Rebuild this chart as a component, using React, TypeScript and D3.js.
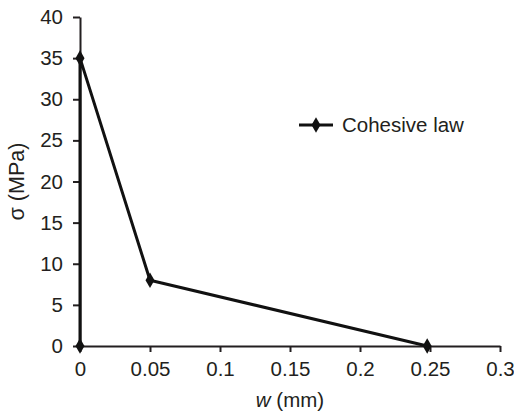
import React, { useRef, useEffect } from 'react';
import * as d3 from 'd3';

// crack opening w (mm) and cohesive stress sigma (MPa)
const openings = [0, 0, 0.05, 0.248];
const stresses = [0, 35, 8, 0];
const xTicks = [0, 0.05, 0.1, 0.15, 0.2, 0.25, 0.3];
const yTicks = [0, 5, 10, 15, 20, 25, 30, 35, 40];
const seriesName = 'Cohesive law';

const App = () => {
  const ref = useRef<SVGSVGElement>(null);

  useEffect(() => {
    const svg = d3.select(ref.current);
    svg.selectAll('*').remove();

    const width = 514;
    const height = 412;
    const margin = { top: 17, right: 14, bottom: 66, left: 80 };
    const ink = '#231f20';
    const font = 'Liberation Sans, Arial, sans-serif';

    svg.attr('width', width).attr('height', height);

    const x = d3.scaleLinear().domain([0, 0.3]).range([margin.left, width - margin.right]);
    const y = d3.scaleLinear().domain([0, 40]).range([height - margin.bottom, margin.top]);

    // y axis
    const yAxis = svg.append('g')
      .attr('transform', `translate(${margin.left},0)`)
      .call(d3.axisLeft(y).tickValues(yTicks).tickSize(7).tickSizeOuter(0).tickPadding(10));
    // x axis
    const xAxis = svg.append('g')
      .attr('transform', `translate(0,${y(0)})`)
      .call(d3.axisBottom(x).tickValues(xTicks).tickSize(6).tickSizeOuter(0).tickPadding(9)
        .tickFormat(d => String(+d)));

    [xAxis, yAxis].forEach(a => {
      a.select('.domain').attr('stroke', ink).attr('stroke-width', 2);
      a.selectAll('.tick line').attr('stroke', ink).attr('stroke-width', 2);
      a.selectAll('.tick text')
        .attr('fill', ink)
        .style('font-family', font)
        .style('font-size', '20.5px');
    });

    // axis titles
    const xTitle = svg.append('text')
      .attr('x', (margin.left + width - margin.right) / 2)
      .attr('y', 407)
      .attr('text-anchor', 'middle')
      .attr('fill', ink)
      .style('font-family', font)
      .style('font-size', '20.5px');
    xTitle.append('tspan').style('font-style', 'italic').text('w');
    xTitle.append('tspan').text(' (mm)');

    svg.append('text')
      .attr('transform', `translate(24,${(y(0) + y(40)) / 2}) rotate(-90)`)
      .attr('text-anchor', 'middle')
      .attr('fill', ink)
      .style('font-family', font)
      .style('font-size', '21.5px')
      .text('σ (MPa)');

    const points = openings.map((w, i) => [w, stresses[i]] as [number, number]);

    const line = d3.line<[number, number]>().x(d => x(d[0])).y(d => y(d[1]));
    svg.append('path')
      .datum(points)
      .attr('d', line)
      .attr('fill', 'none')
      .attr('stroke', '#111')
      .attr('stroke-width', 3)
      .attr('stroke-linejoin', 'round');

    const diamond = d3.symbol().type(d3.symbolDiamond).size(70);
    svg.selectAll('path.marker')
      .data(points)
      .join('path')
      .attr('class', 'marker')
      .attr('d', diamond)
      .attr('transform', d => `translate(${x(d[0])},${y(d[1])})`)
      .attr('fill', '#111');

    // legend
    const lg = svg.append('g').attr('transform', 'translate(299,125)');
    lg.append('line').attr('x1', 0).attr('x2', 34).attr('y1', 0).attr('y2', 0)
      .attr('stroke', '#111').attr('stroke-width', 3);
    lg.append('path').attr('d', diamond).attr('transform', 'translate(17,0)').attr('fill', '#111');
    lg.append('text')
      .attr('x', 43)
      .attr('y', 7)
      .attr('fill', ink)
      .style('font-family', font)
      .style('font-size', '20.5px')
      .text(seriesName);
  }, []);

  return <svg ref={ref} style={{ position: 'absolute', left: 0, top: 0 }}></svg>;
};

export default App;
